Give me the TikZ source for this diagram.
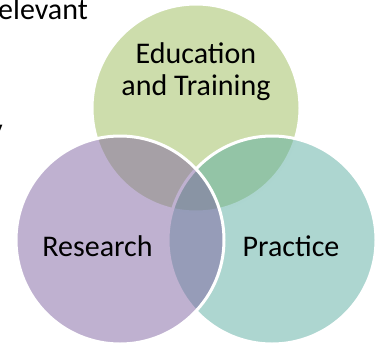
\documentclass[tikz,border=0pt]{standalone}
\usepackage{fontspec}
\setmainfont{Carlito}
\usepackage{tikz}
\usetikzlibrary{shapes}

\definecolor{edugreen}{RGB}{155,187,89}
\definecolor{respurple}{RGB}{128,100,162}
\definecolor{practeal}{RGB}{91,173,161}

\begin{document}
\begin{tikzpicture}[x=1pt,y=-1pt]
      \tikzset{venn circle/.style={circle,
          inner sep=0pt,
          minimum size=208pt,
          line width=3pt,
          draw=white,
          fill=#1,
          fill opacity=0.5,
          draw opacity=1}
      }
      \tikzset{venn text/.style={inner sep=0pt,
          anchor=base,
          text=black,
          font=\fontsize{30}{32}\selectfont}
      }
      \useasboundingbox (0,0) rectangle (379,343);

      % cut-off words of the page around the diagram
      \node [venn text, anchor=base east] (page1) at (88,19) {relevant};
      \node [venn text, anchor=base east] (page2) at (3,139) {y};

      \node [venn circle=edugreen] (Edu) at (196,108) {};
      \node [venn circle=practeal] (Prac) at (272,240) {};
      \node [venn circle=respurple] (Res) at (120,240) {};

      \node [venn text, align=center] (EduText) at (196,95) {Education\\and Training};
      \node [venn text] (ResText) at (97.5,256) {Research};
      \node [venn text] (PracText) at (291,256) {Practice};

    \end{tikzpicture}
\end{document}
